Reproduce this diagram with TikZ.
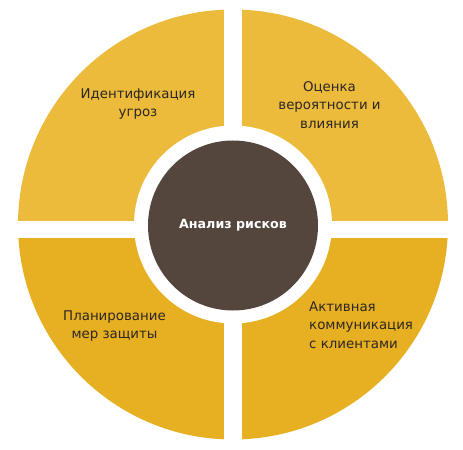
\documentclass[tikz,border=0pt]{standalone}
\usepackage{fontspec}
\setmainfont{DejaVu Sans}
\usetikzlibrary{positioning}
\definecolor{quadlight}{HTML}{ECBB3B}
\definecolor{quaddark}{HTML}{E7AF22}
\definecolor{corebrown}{HTML}{54463D}
\definecolor{labelgray}{HTML}{2B2622}
\begin{document}
\begin{tikzpicture}[x=0.03cm,y=-0.03cm,
     lbl/.style={text=labelgray,font=\fontsize{11.4}{15.8}\selectfont,align=center,inner sep=0pt},
     core/.style={circle,fill=corebrown,text=white,minimum size=5.1cm,inner sep=0pt,
                  font=\fontsize{10.8}{16}\selectfont\bfseries}
     ]
\useasboundingbox (0,0) rectangle (463,450);
%Centre and radii of the wheel
\def \cx{233}
\def \cy{224.5}
\def \rout{215}
\def \rring{99}

%Gap between the quarters
\def \gxa{224}
\def \gxb{242}
\def \gya{220.7}
\def \gyb{238.3}

%The four quarters
\begin{scope}
\clip (\cx,\cy) circle[radius=\rout];
\fill[quadlight] (0,0) rectangle (\gxa,\gya);
\fill[quadlight] (\gxb,0) rectangle (463,\gya);
\fill[quaddark] (0,\gyb) rectangle (\gxa,450);
\fill[quaddark] (\gxb,\gyb) rectangle (463,450);
\end{scope}

%White ring and the centre
\fill[white] (\cx,\cy) circle[radius=\rring];
\node[core] (risk) at (\cx,225.5) {Анализ рисков};

%Labels of the quarters
\node[lbl] (threats) at (138,104) {Идентификация\\угроз};
\node[lbl] (assess) at (329.5,105) {Оценка\\вероятности и\\влияния};
\node[lbl] (protect) at (114.5,326) {Планирование\\мер защиты};
\node[lbl,align=left,anchor=west] (clients) at (309,325) {Активная\\коммуникация\\с клиентами};
\end{tikzpicture}
\end{document}
